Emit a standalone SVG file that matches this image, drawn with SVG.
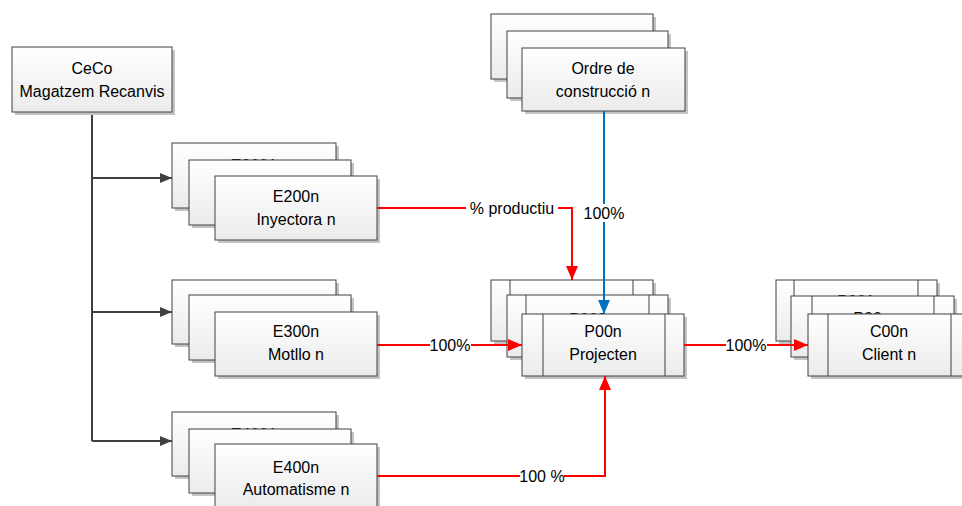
<svg xmlns="http://www.w3.org/2000/svg" width="962" height="506" viewBox="0 0 962 506">
<defs>
<linearGradient id="g" x1="0" y1="0" x2="0" y2="1"><stop offset="0" stop-color="#ffffff"/><stop offset="1" stop-color="#ebebeb"/></linearGradient>
<marker id="ak" viewBox="0 0 12 10" refX="12" refY="5" markerWidth="12" markerHeight="10" markerUnits="userSpaceOnUse" orient="auto"><path d="M0 0L12 5L0 10z" fill="#404040"/></marker>
<marker id="ar" viewBox="0 0 14 12" refX="14" refY="6" markerWidth="14" markerHeight="12" markerUnits="userSpaceOnUse" orient="auto"><path d="M0 0L14 6L0 12z" fill="#ff0000"/></marker>
<marker id="ab" viewBox="0 0 14 12" refX="14" refY="6" markerWidth="14" markerHeight="12" markerUnits="userSpaceOnUse" orient="auto"><path d="M0 0L14 6L0 12z" fill="#0070c0"/></marker>
<clipPath id="c1"><rect x="172" y="143" width="164" height="17"/></clipPath>
<clipPath id="c2"><rect x="189" y="160" width="162" height="16"/></clipPath>
<clipPath id="c3"><rect x="172" y="280" width="164" height="15"/></clipPath>
<clipPath id="c4"><rect x="189" y="295" width="162" height="17"/></clipPath>
<clipPath id="c5"><rect x="172" y="412" width="164" height="17"/></clipPath>
<clipPath id="c6"><rect x="189" y="429" width="162" height="15"/></clipPath>
<clipPath id="c7"><rect x="491" y="280" width="162" height="15"/></clipPath>
<clipPath id="c8"><rect x="507" y="295" width="161" height="19"/></clipPath>
<clipPath id="c9"><rect x="776" y="280" width="161" height="16"/></clipPath>
<clipPath id="c10"><rect x="791" y="296" width="163" height="18"/></clipPath>
</defs>
<style>
.b{fill:url(#g);stroke:#404040;stroke-width:1}
.s{fill:#c4c4c4}
.l{fill:none;stroke:#404040;stroke-width:1}
text{font-family:"Liberation Sans",Arial,sans-serif;font-size:16px;fill:#000;text-anchor:middle}
.k{fill:none;stroke:#404040;stroke-width:2}
.r{fill:none;stroke:#ff0000;stroke-width:2}
.bl{fill:none;stroke:#0070c0;stroke-width:2}
.lb{fill:#fff}
</style>
<g id="connectors">
<path class="k" d="M92 112V441"/>
<path class="k" d="M92 178H172" marker-end="url(#ak)"/>
<path class="k" d="M92 312H172" marker-end="url(#ak)"/>
<path class="k" d="M92 441H172" marker-end="url(#ak)"/>
</g>
<g id="ceco">
<rect class="s" x="15" y="50" width="160" height="65"/>
<rect class="b" x="12" y="47" width="160" height="65"/>
<text x="92" y="74">CeCo</text>
<text x="92" y="97">Magatzem Recanvis</text>
</g>
<g id="e200">
<rect class="s" x="175" y="146" width="164" height="65"/>
<rect class="b" x="172" y="143" width="164" height="65"/>
<text x="254" y="171" clip-path="url(#c1)">E2001</text>
<rect class="s" x="192" y="163" width="162" height="65"/>
<rect class="b" x="189" y="160" width="162" height="65"/>
<text x="270" y="189" clip-path="url(#c2)">E2002</text>
<rect class="s" x="218" y="179" width="162" height="64"/>
<rect class="b" x="215" y="176" width="162" height="64"/>
<text x="296" y="202">E200n</text>
<text x="296" y="225">Inyectora n</text>
</g>
<g id="e300">
<rect class="s" x="175" y="283" width="164" height="64"/>
<rect class="b" x="172" y="280" width="164" height="64"/>
<text x="254" y="307" clip-path="url(#c3)">E3001</text>
<rect class="s" x="192" y="298" width="162" height="65"/>
<rect class="b" x="189" y="295" width="162" height="65"/>
<text x="270" y="324" clip-path="url(#c4)">E3002</text>
<rect class="s" x="218" y="315" width="162" height="64"/>
<rect class="b" x="215" y="312" width="162" height="64"/>
<text x="296" y="337">E300n</text>
<text x="296" y="360">Motllo n</text>
</g>
<g id="e400">
<rect class="s" x="175" y="415" width="164" height="64"/>
<rect class="b" x="172" y="412" width="164" height="64"/>
<text x="254" y="440" clip-path="url(#c5)">E4001</text>
<rect class="s" x="192" y="432" width="162" height="64"/>
<rect class="b" x="189" y="429" width="162" height="64"/>
<text x="270" y="458" clip-path="url(#c6)">E4002</text>
<rect class="s" x="218" y="447" width="162" height="64"/>
<rect class="b" x="215" y="444" width="162" height="64"/>
<text x="296" y="473">E400n</text>
<text x="296" y="495">Automatisme n</text>
</g>
<g id="ordre">
<rect class="s" x="494" y="17" width="162" height="65"/>
<rect class="b" x="491" y="14" width="162" height="65"/>
<rect class="s" x="510" y="34" width="161" height="67"/>
<rect class="b" x="507" y="31" width="161" height="67"/>
<rect class="s" x="525" y="51" width="163" height="63"/>
<rect class="b" x="522" y="48" width="163" height="63"/>
<text x="603" y="74">Ordre de</text>
<text x="603" y="97">construcció n</text>
</g>
<g id="projecte">
<rect class="s" x="494" y="283" width="162" height="61"/>
<rect class="b" x="491" y="280" width="162" height="61"/>
<path class="l" d="M510 280V341M633 280V341"/>
<text x="572" y="307" clip-path="url(#c7)">P001</text>
<rect class="s" x="510" y="298" width="161" height="62"/>
<rect class="b" x="507" y="295" width="161" height="62"/>
<path class="l" d="M526 295V357M649 295V357"/>
<text x="588" y="325" clip-path="url(#c8)">P002</text>
<rect class="s" x="525" y="317" width="162" height="62"/>
<rect class="b" x="522" y="314" width="162" height="62"/>
<path class="l" d="M543 314V376M665 314V376"/>
<text x="603" y="337">P00n</text>
<text x="603" y="360">Projecten</text>
</g>
<g id="client">
<rect class="s" x="779" y="283" width="161" height="61"/>
<rect class="b" x="776" y="280" width="161" height="61"/>
<path class="l" d="M794 280V341M918 280V341"/>
<text x="856" y="307" clip-path="url(#c9)">P001</text>
<rect class="s" x="794" y="299" width="163" height="61"/>
<rect class="b" x="791" y="296" width="163" height="61"/>
<path class="l" d="M812 296V357M934 296V357"/>
<text x="872" y="324" clip-path="url(#c10)">P00n</text>
<rect class="s" x="811" y="317" width="163" height="62"/>
<rect class="b" x="808" y="314" width="163" height="62"/>
<path class="l" d="M828 314V376M951 314V376"/>
<text x="889" y="337">C00n</text>
<text x="889" y="360">Client n</text>
</g>
<g id="flows">
<path class="r" d="M377 208H572V280" marker-end="url(#ar)"/>
<path class="r" d="M377 345H522" marker-end="url(#ar)"/>
<path class="r" d="M684 345H808" marker-end="url(#ar)"/>
<path class="r" d="M377 476H605V376" marker-end="url(#ar)"/>
<path class="bl" d="M604 111V314" marker-end="url(#ab)"/>
<rect class="lb" x="466" y="199" width="92" height="18"/>
<text x="512" y="214">% productiu</text>
<rect class="lb" x="584" y="204" width="41" height="18"/>
<text x="604" y="219">100%</text>
<rect class="lb" x="430" y="336" width="41" height="18"/>
<text x="450" y="351">100%</text>
<rect class="lb" x="726" y="336" width="41" height="18"/>
<text x="746" y="351">100%</text>
<rect class="lb" x="520" y="467" width="44" height="18"/>
<text x="542" y="482">100 %</text>
</g>
</svg>
